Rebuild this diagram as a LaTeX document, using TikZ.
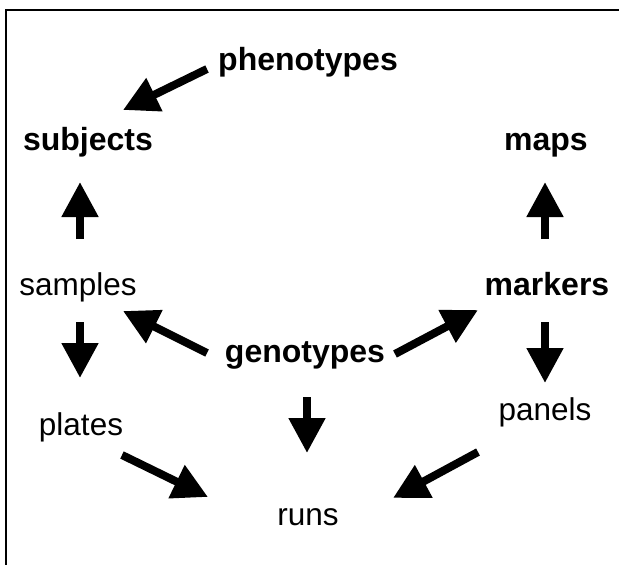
\documentclass[tikz,border=0pt]{standalone}
\usepackage{fontspec}
\setmainfont{Liberation Sans}
\usetikzlibrary{arrows.meta}
\tikzset{
  lbl/.style={anchor=base, inner sep=0pt, font=\fontsize{31.5}{37}\selectfont},
  blbl/.style={lbl, font=\fontsize{32}{38}\selectfont\bfseries},
  arr/.style={line width=8pt, -{Triangle[length=35pt,width=35pt]}},
}
\begin{document}
\begin{tikzpicture}[x=1pt,y=-1pt]
\useasboundingbox (0,0) rectangle (619,565);
\fill[white] (0,0) rectangle (619,565);
\draw[line width=2pt] (6,10) rectangle (660,620);

\node[blbl] (phen) at (308,70) {phenotypes};
\node[blbl] (subj) at (88,150) {subjects};
\node[blbl] (maps) at (546,150) {maps};
\node[lbl]  (samp) at (78,295) {samples};
\node[blbl] (mark) at (547,295) {markers};
\node[blbl] (geno) at (305,362) {genotypes};
\node[lbl]  (plat) at (81,435) {plates};
\node[lbl]  (pane) at (545,420) {panels};
\node[lbl]  (runs) at (308,525) {runs};

\draw[arr] ([shift={(-101,-1)}]phen.base) -- ([shift={(35,-40)}]subj.base);
\draw[arr] ([shift={(2,-56)}]samp.base) -- ([shift={(-8,32)}]subj.base);
\draw[arr] ([shift={(-2,-56)}]mark.base) -- ([shift={(-1,32)}]maps.base);
\draw[arr] ([shift={(2,27)}]samp.base) -- ([shift={(-1,-57)}]plat.base);
\draw[arr] ([shift={(-2,27)}]mark.base) -- ([shift={(0,-37)}]pane.base);
\draw[arr] ([shift={(-98,-9)}]geno.base) -- ([shift={(45,16)}]samp.base);
\draw[arr] ([shift={(90,-8)}]geno.base) -- ([shift={(-69,15)}]mark.base);
\draw[arr] ([shift={(2,35)}]geno.base) -- ([shift={(-1,-72)}]runs.base);
\draw[arr] ([shift={(41,20)}]plat.base) -- ([shift={(-100,-28)}]runs.base);
\draw[arr] ([shift={(-67,32)}]pane.base) -- ([shift={(85,-27)}]runs.base);
\end{tikzpicture}
\end{document}
